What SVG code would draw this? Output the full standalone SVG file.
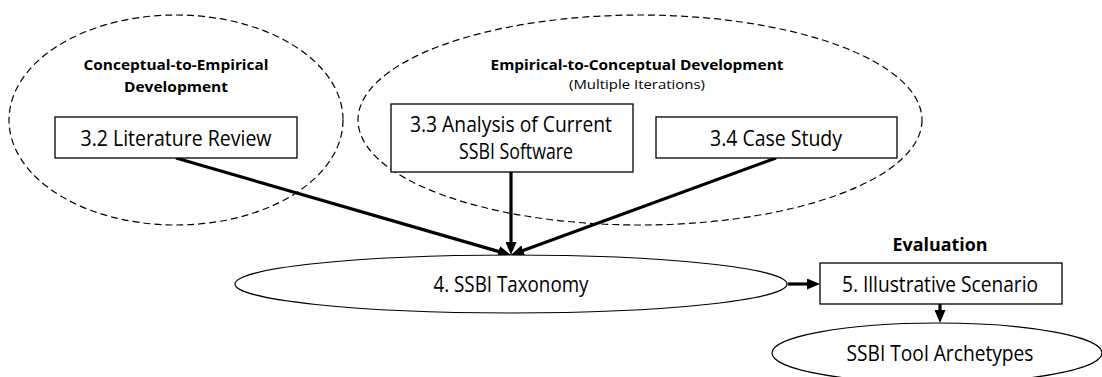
<svg xmlns="http://www.w3.org/2000/svg" width="1102" height="377" viewBox="0 0 1102 377">
  <style>
    .bg { fill: #ffffff; }
    .phase { fill: none; stroke: #000; stroke-width: 1.2; stroke-dasharray: 7 4; }
    .box { fill: #ffffff; stroke: #000; stroke-width: 1.3; }
    .oval { fill: #ffffff; stroke: #000; stroke-width: 1.2; }
    .lbl { font-family: "Open Sans", "Noto Sans", sans-serif; font-size: 21px; fill: #000; text-anchor: middle; }
    .ttl { font-family: "Open Sans", "Noto Sans", sans-serif; font-size: 15px; font-weight: bold; fill: #000; text-anchor: middle; }
    .sub { font-family: "Open Sans", "Noto Sans", sans-serif; font-size: 13px; fill: #000; text-anchor: middle; }
    .eval { font-family: "Open Sans", "Noto Sans", sans-serif; font-size: 18px; font-weight: bold; fill: #000; text-anchor: middle; }
    .conn { fill: none; stroke: #000; stroke-width: 3.2; }
  </style>
  <defs>
    <marker id="arrow" markerUnits="userSpaceOnUse" markerWidth="13" markerHeight="11" refX="6" refY="5.5" orient="auto">
      <path d="M0,0 L13,5.5 L0,11 z" fill="#000"/>
    </marker>
  </defs>

  <rect class="bg" x="0" y="0" width="1102" height="377"/>

  <!-- dashed phase regions -->
  <g id="phase-conceptual">
    <ellipse class="phase" cx="176" cy="120" rx="167" ry="105"/>
    <text class="ttl" x="176" y="70" textLength="185" lengthAdjust="spacingAndGlyphs">Conceptual-to-Empirical</text>
    <text class="ttl" x="176" y="92" textLength="104" lengthAdjust="spacingAndGlyphs">Development</text>
  </g>
  <g id="phase-empirical">
    <ellipse class="phase" cx="640" cy="120" rx="282" ry="105"/>
    <text class="ttl" x="637" y="70" textLength="293" lengthAdjust="spacingAndGlyphs">Empirical-to-Conceptual Development</text>
    <text class="sub" x="637" y="89" textLength="136" lengthAdjust="spacingAndGlyphs">(Multiple Iterations)</text>
  </g>

  <!-- connectors -->
  <g id="connectors">
    <line class="conn" x1="176" y1="158" x2="504.3" y2="253.1" marker-end="url(#arrow)"/>
    <line class="conn" x1="511" y1="172" x2="511" y2="248" marker-end="url(#arrow)"/>
    <line class="conn" x1="776" y1="158" x2="517.6" y2="252.6" marker-end="url(#arrow)"/>
    <line class="conn" x1="788" y1="284" x2="813" y2="284" marker-end="url(#arrow)"/>
    <line class="conn" x1="940" y1="304" x2="940" y2="316" marker-end="url(#arrow)"/>
  </g>

  <!-- nodes -->
  <g id="literature-review">
    <rect class="box" x="55" y="117" width="242" height="41"/>
    <text class="lbl" x="176" y="146" textLength="191" lengthAdjust="spacingAndGlyphs">3.2 Literature Review</text>
  </g>
  <g id="software-analysis">
    <rect class="box" x="391" y="104" width="242" height="68"/>
    <text class="lbl" x="511" y="132" textLength="202" lengthAdjust="spacingAndGlyphs">3.3 Analysis of Current</text>
    <text class="lbl" x="516" y="159" textLength="114" lengthAdjust="spacingAndGlyphs">SSBI Software</text>
  </g>
  <g id="case-study">
    <rect class="box" x="656" y="117" width="241" height="41"/>
    <text class="lbl" x="776" y="146" textLength="132" lengthAdjust="spacingAndGlyphs">3.4 Case Study</text>
  </g>
  <g id="taxonomy">
    <ellipse class="oval" cx="511" cy="284" rx="276" ry="29"/>
    <text class="lbl" x="511" y="292" textLength="155" lengthAdjust="spacingAndGlyphs">4. SSBI Taxonomy</text>
  </g>
  <g id="evaluation">
    <text class="eval" x="940" y="251" textLength="95" lengthAdjust="spacingAndGlyphs">Evaluation</text>
    <rect class="box" x="820" y="263" width="242" height="41"/>
    <text class="lbl" x="940" y="292" textLength="196" lengthAdjust="spacingAndGlyphs">5. Illustrative Scenario</text>
  </g>
  <g id="archetypes">
    <ellipse class="oval" cx="937" cy="353" rx="165" ry="30"/>
    <text class="lbl" x="940" y="361" textLength="187" lengthAdjust="spacingAndGlyphs">SSBI Tool Archetypes</text>
  </g>
</svg>
